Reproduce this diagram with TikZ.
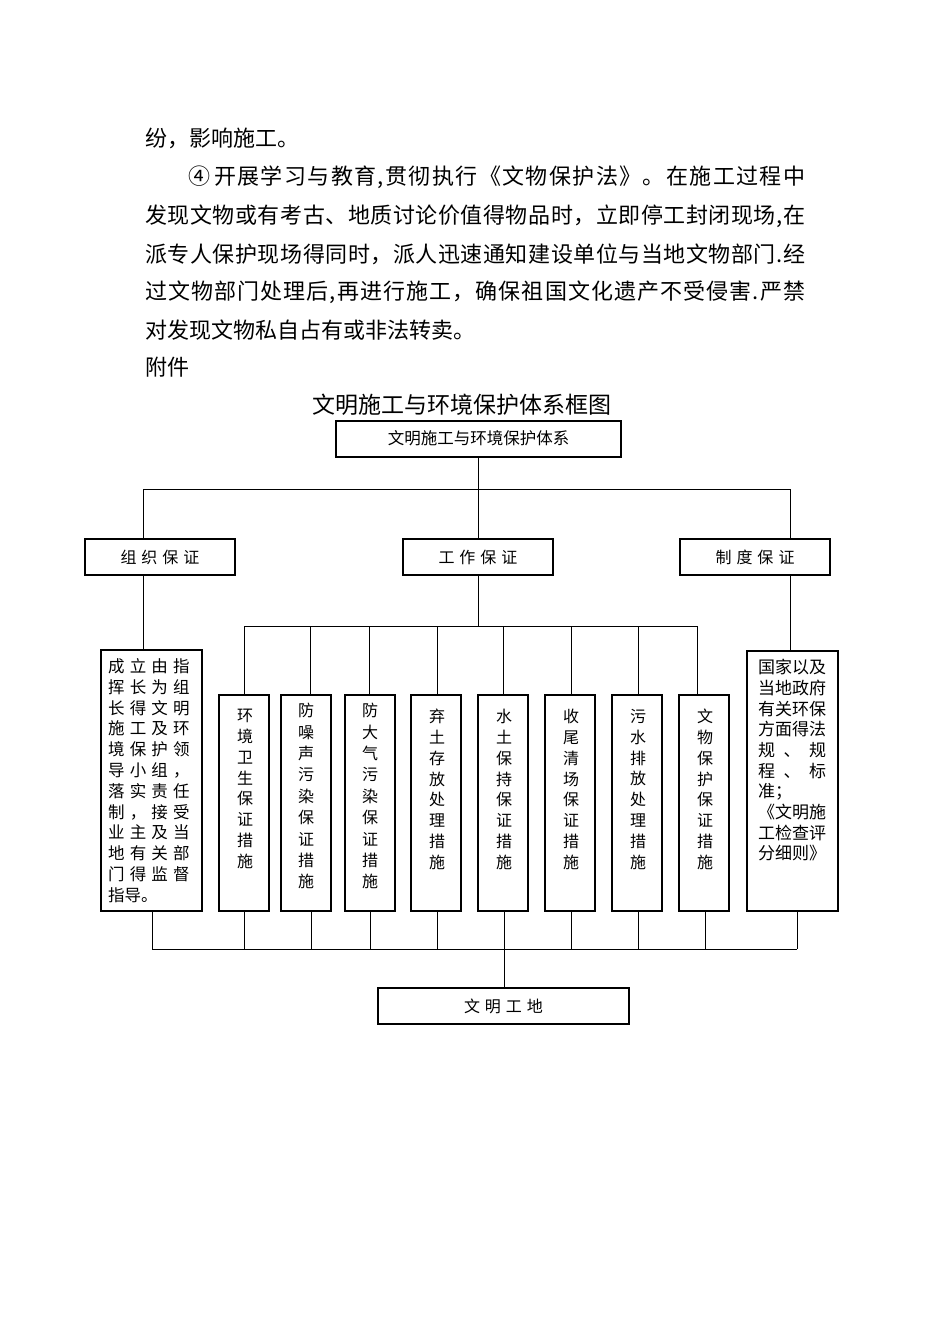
\documentclass[tikz,border=0pt]{standalone}
\usepackage{fontspec}
\setmainfont{Noto Sans CJK SC}
\def\jrow#1{\jrowi#1\relax\unskip}
\def\jrowi#1{\ifx#1\relax\else#1\hskip0pt plus 1fil\relax\expandafter\jrowi\fi}
\def\lsrow#1{\lsrowi#1\relax}
\def\lsrowi#1{\ifx#1\relax\else\makebox[21.7pt][l]{#1}\expandafter\lsrowi\fi}
\def\sprow#1{\sprowi#1\relax}
\def\sprowi#1{\ifx#1\relax\else\makebox[21pt]{#1}\expandafter\sprowi\fi}
\tikzset{
  box/.style={draw, line width=1.1pt, inner sep=0},
  conn/.style={line width=0.9pt},
  body/.style={anchor=west, inner sep=0, font=\fontsize{22}{26}\selectfont},
  vtext/.style={anchor=north, inner sep=0, align=center, font=\fontsize{16}{20.8}\selectfont},
  vtextn/.style={anchor=north, inner sep=0, align=center, font=\fontsize{16}{21.4}\selectfont},
}
\begin{document}
\begin{tikzpicture}[x=1pt,y=-1pt]
\fill[white] (0,0) rectangle (950,1344);
\useasboundingbox (0,0) rectangle (950,1344);

% body text
\node[body] (p1) at (145,138) {纷，影响施工。};
\node[body] (p2) at (188,177) {\makebox[617pt][s]{④\hspace{4pt}\jrow{开展学习与教育,贯彻执行《文物保护法》。在施工过程中}}};
\node[body] (p3) at (145,216) {\makebox[660pt][s]{\jrow{发现文物或有考古、地质讨论价值得物品时，立即停工封闭现场,在}}};
\node[body] (p4) at (145,254) {\makebox[660pt][s]{\jrow{派专人保护现场得同时，派人迅速通知建设单位与当地文物部门.经}}};
\node[body] (p5) at (145,292) {\makebox[660pt][s]{\jrow{过文物部门处理后,再进行施工，确保祖国文化遗产不受侵害.严禁}}};
\node[body] (p6) at (145,330) {对发现文物私自占有或非法转卖。};
\node[body] (p7) at (145,367) {附件};

% title
\node[inner sep=0, font=\fontsize{23}{26}\selectfont] (title) at (462,405) {文明施工与环境保护体系框图};

% boxes
\node[box, minimum width=285pt, minimum height=36pt, font=\fontsize{16.5}{20}\selectfont] (top) at (478.5,439) {\raisebox{3pt}{文明施工与环境保护体系}};
\node[box, minimum width=150pt, minimum height=36pt, font=\fontsize{16}{20}\selectfont] (org) at (160,557) {\sprow{组织保证}};
\node[box, minimum width=150pt, minimum height=36pt, font=\fontsize{16}{20}\selectfont] (work) at (478,557) {\sprow{工作保证}};
\node[box, minimum width=150pt, minimum height=36pt, font=\fontsize{16}{20}\selectfont] (sys) at (755,557) {\sprow{制度保证}};

\node[box, minimum width=101pt, minimum height=261pt, align=left, font=\fontsize{16.5}{20.8}\selectfont] (left) at (151.5,780.5)
 {\lsrow{成立由指}\\\lsrow{挥长为组}\\\lsrow{长得文明}\\\lsrow{施工及环}\\\lsrow{境保护领}\\\lsrow{导小组，}\\\lsrow{落实责任}\\\lsrow{制，接受}\\\lsrow{业主及当}\\\lsrow{地有关部}\\\lsrow{门得监督}\\指导。};

\node[box, minimum width=50pt, minimum height=216pt] (m1) at (244,803) {};
\node[box, minimum width=50pt, minimum height=216pt] (m2) at (306,803) {};
\node[box, minimum width=50pt, minimum height=216pt] (m3) at (370,803) {};
\node[box, minimum width=50pt, minimum height=216pt] (m4) at (436,803) {};
\node[box, minimum width=50pt, minimum height=216pt] (m5) at (503,803) {};
\node[box, minimum width=50pt, minimum height=216pt] (m6) at (570,803) {};
\node[box, minimum width=50pt, minimum height=216pt] (m7) at (637,803) {};
\node[box, minimum width=50pt, minimum height=216pt] (m8) at (704,803) {};
\node[box, minimum width=91pt, minimum height=260pt] (right) at (792.5,781) {};
\node[box, minimum width=251pt, minimum height=36pt, font=\fontsize{16}{20}\selectfont] (site) at (503.5,1006) {\sprow{文明工地}};

% vertical texts
\node[vtext] (m1t) at (245,709) {环\\境\\卫\\生\\保\\证\\措\\施};
\node[vtextn] (m2t) at (306,703) {防\\噪\\声\\污\\染\\保\\证\\措\\施};
\node[vtextn] (m3t) at (370,703) {防\\大\\气\\污\\染\\保\\证\\措\\施};
\node[vtext] (m4t) at (437,709) {弃\\土\\存\\放\\处\\理\\措\\施};
\node[vtext] (m5t) at (504,709) {水\\土\\保\\持\\保\\证\\措\\施};
\node[vtext] (m6t) at (571,709) {收\\尾\\清\\场\\保\\证\\措\\施};
\node[vtext] (m7t) at (638,709) {污\\水\\排\\放\\处\\理\\措\\施};
\node[vtext] (m8t) at (705,709) {文\\物\\保\\护\\保\\证\\措\\施};
\node[anchor=north, inner sep=0, text width=69pt, align=left, font=\fontsize{17}{20.7}\selectfont] (rightt) at (792.5,659)
 {国家以及\\当地政府\\有关环保\\方面得法\\\makebox[68pt][s]{规\hfill 、\hfill 规}\\\makebox[68pt][s]{程\hfill 、\hfill 标}\\准；\\《文明施\\工检查评\\分细则》};

% connectors
\coordinate (b1L) at (143,489);
\coordinate (b1R) at (790,489);
\draw[conn] (top.south) -- (top.south |- b1L);
\draw[conn] (b1L) -- (b1R);
\draw[conn] (b1L) -- (b1L |- org.north);
\draw[conn] (top.south |- b1L) -- (top.south |- work.north);
\draw[conn] (b1R) -- (b1R |- sys.north);
\draw[conn] (b1L |- org.south) -- (b1L |- left.north);
\draw[conn] (b1R |- sys.south) -- (b1R |- right.north);

\coordinate (b2L) at (244,626);
\coordinate (b2R) at (697,626);
\draw[conn] (work.south) -- (work.south |- b2L);
\draw[conn] (b2L) -- (b2R);
\coordinate (t1) at (244,626); \coordinate (t2) at (310,626);
\coordinate (t3) at (369,626); \coordinate (t4) at (437,626);
\coordinate (t5) at (503,626); \coordinate (t6) at (571,626);
\coordinate (t7) at (638,626); \coordinate (t8) at (697,626);
\draw[conn] (t1) -- (t1 |- m1.north);
\draw[conn] (t2) -- (t2 |- m2.north);
\draw[conn] (t3) -- (t3 |- m3.north);
\draw[conn] (t4) -- (t4 |- m4.north);
\draw[conn] (t5) -- (t5 |- m5.north);
\draw[conn] (t6) -- (t6 |- m6.north);
\draw[conn] (t7) -- (t7 |- m7.north);
\draw[conn] (t8) -- (t8 |- m8.north);

\coordinate (c0) at (152,949); \coordinate (c1) at (244,949);
\coordinate (c2) at (311,949); \coordinate (c3) at (370,949);
\coordinate (c4) at (437,949); \coordinate (c5) at (504,949);
\coordinate (c6) at (571,949); \coordinate (c7) at (638,949);
\coordinate (c8) at (705,949); \coordinate (c9) at (797,949);
\draw[conn] (c0) -- (c9);
\draw[conn] (c0 |- left.south) -- (c0);
\draw[conn] (c1 |- m1.south) -- (c1);
\draw[conn] (c2 |- m2.south) -- (c2);
\draw[conn] (c3 |- m3.south) -- (c3);
\draw[conn] (c4 |- m4.south) -- (c4);
\draw[conn] (c5 |- m5.south) -- (c5);
\draw[conn] (c6 |- m6.south) -- (c6);
\draw[conn] (c7 |- m7.south) -- (c7);
\draw[conn] (c8 |- m8.south) -- (c8);
\draw[conn] (c9 |- right.south) -- (c9);
\draw[conn] (c5) -- (c5 |- site.north);
\end{tikzpicture}
\end{document}
